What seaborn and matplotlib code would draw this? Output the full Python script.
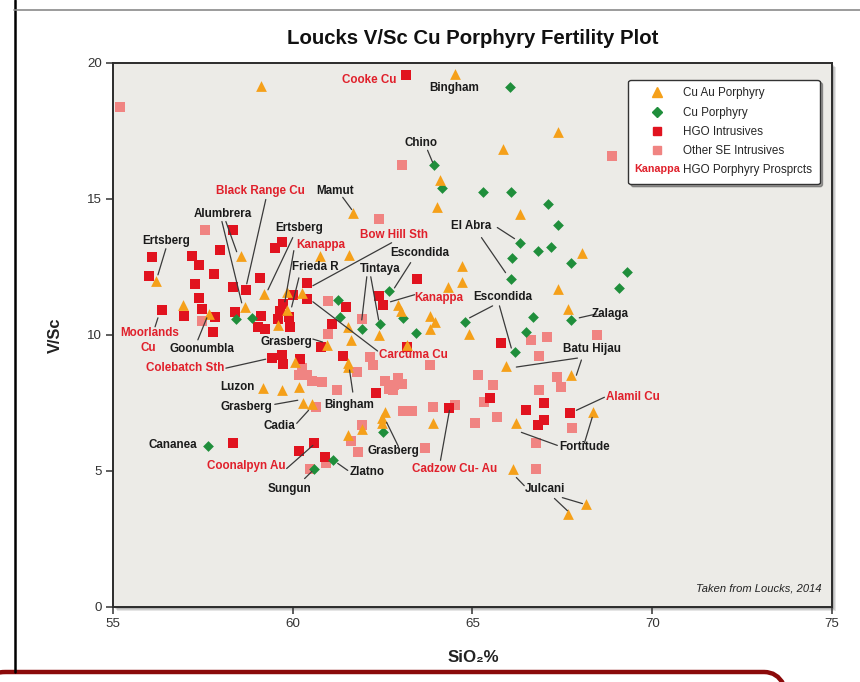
import pandas as pd
import matplotlib
matplotlib.use('Agg')
import matplotlib.pyplot as plt
import seaborn as sns
from matplotlib import font_manager
from matplotlib.lines import Line2D
from matplotlib.patches import Rectangle, FancyBboxPatch
from matplotlib.legend_handler import HandlerBase
import matplotlib.text as mtext

cuau_sio2 = [59.11, 64.50, 67.39, 65.86, 64.11, 64.00, 66.33, 61.69, 68.06, 61.56,
             60.75, 58.56, 56.19, 64.72, 64.72, 64.31, 67.39, 62.94, 63.00, 67.67,
             59.19, 59.83, 60.25, 58.67, 56.94, 57.67, 59.83, 59.58, 63.81, 63.97,
             63.83, 64.89, 62.39, 61.53, 61.61, 60.94, 63.19, 60.06, 61.53, 61.53,
             65.94, 67.75, 59.17, 59.69, 60.17, 60.28, 60.53, 62.56, 62.47, 62.47,
             63.89, 66.22, 61.53, 61.92, 68.36, 66.14, 68.17, 67.67]
cuau_vsc = [19.15, 19.60, 17.45, 16.85, 15.68, 14.72, 14.46, 14.50, 13.00, 12.95,
            12.92, 12.92, 12.00, 12.55, 11.96, 11.77, 11.70, 11.11, 10.89, 10.95,
            11.51, 11.59, 11.55, 11.03, 11.10, 10.77, 10.92, 10.37, 10.70, 10.48,
            10.22, 10.04, 10.00, 10.30, 9.82, 9.63, 9.63, 9.00, 8.97, 8.82,
            8.86, 8.52, 8.04, 7.97, 8.08, 7.49, 7.45, 7.16, 6.94, 6.75,
            6.75, 6.75, 6.31, 6.55, 7.16, 5.06, 3.78, 3.43]

cu_sio2 = [66.03, 63.92, 64.14, 65.28, 66.06, 67.11, 67.39, 66.31, 66.81, 67.19,
           66.11, 67.75, 69.30, 66.06, 69.08, 62.69, 61.25, 61.31, 61.94, 62.44,
           63.08, 63.42, 64.78, 66.69, 67.75, 66.50, 66.17, 58.42, 58.86, 62.50,
           57.64, 61.11, 60.58]
cu_vsc = [19.11, 16.24, 15.42, 15.24, 15.24, 14.83, 14.06, 13.39, 13.10, 13.25,
          12.84, 12.66, 12.32, 12.07, 11.73, 11.63, 11.29, 10.66, 10.22, 10.41,
          10.63, 10.07, 10.48, 10.66, 10.55, 10.11, 9.37, 10.59, 10.63, 6.42,
          5.90, 5.42, 5.06]

hgo_sio2 = [63.14, 58.33, 56.08, 57.19, 57.97, 59.50, 59.70, 57.39, 56.00, 57.80,
            57.28, 57.39, 58.33, 58.69, 59.08, 56.36, 56.97, 57.47, 57.83, 57.78,
            58.39, 59.11, 59.03, 59.22, 60.00, 59.72, 59.64, 59.58, 59.89, 59.92,
            60.39, 60.39, 61.47, 61.08, 60.78, 61.39, 59.42, 59.69, 59.72, 60.19,
            63.47, 62.39, 62.50, 63.19, 65.78, 62.31, 65.50, 66.50, 67.00, 67.72,
            66.81, 67.00, 64.36, 58.33, 60.17, 60.58, 60.89]
hgo_vsc = [19.56, 13.87, 12.88, 12.92, 13.12, 13.20, 13.40, 12.58, 12.18, 12.25,
           11.88, 11.37, 11.77, 11.66, 12.10, 10.92, 10.70, 10.96, 10.66, 10.11,
           10.85, 10.70, 10.30, 10.22, 11.48, 11.14, 10.89, 10.59, 10.66, 10.30,
           11.33, 11.92, 11.03, 10.41, 9.56, 9.23, 9.15, 9.25, 8.95, 9.11,
           12.07, 11.44, 11.11, 9.55, 9.70, 7.86, 7.67, 7.23, 7.49, 7.12,
           6.68, 6.86, 7.30, 6.01, 5.72, 6.01, 5.50]

se_sio2 = [55.19, 57.56, 63.03, 62.39, 68.89, 57.47, 60.97, 60.97, 61.94, 60.25,
           60.39, 60.17, 60.53, 60.81, 61.22, 60.64, 62.14, 62.22, 61.78, 63.81,
           62.69, 62.56, 62.83, 62.94, 63.03, 62.78, 65.14, 65.58, 65.31, 66.64,
           67.06, 66.86, 67.36, 67.47, 66.86, 68.47, 65.67, 65.06, 64.50, 63.06,
           63.33, 63.89, 61.92, 61.61, 61.81, 63.67, 66.78, 66.78, 67.78, 60.92,
           60.47]
se_vsc = [18.37, 13.87, 16.24, 14.28, 16.57, 10.52, 11.25, 10.04, 10.59, 8.78,
          8.52, 8.52, 8.30, 8.27, 7.97, 7.34, 9.19, 8.89, 8.63, 8.89,
          8.00, 8.30, 8.15, 8.41, 8.19, 7.97, 8.52, 8.15, 7.53, 9.82,
          9.93, 9.22, 8.45, 8.10, 7.97, 10.00, 6.97, 6.75, 7.42, 7.20,
          7.20, 7.34, 6.68, 6.09, 5.68, 5.83, 6.01, 5.09, 6.57, 5.28,
          5.09]

# deposit names (text, x, y, prospect?) and leader lines
label_text = ['Cooke Cu', 'Bingham', 'Chino', 'Mamut', 'Black Range Cu', 'Alumbrera',
              'Ertsberg', 'Ertsberg', 'Kanappa', 'Frieda R', 'Bow Hill Sth', 'Escondida',
              'Tintaya', 'Kanappa', 'El Abra', 'Escondida', 'Carcuma Cu', 'Grasberg',
              'Moorlands', 'Cu', 'Goonumbla', 'Colebatch Sth', 'Batu Hijau', 'Zalaga',
              'Luzon', 'Grasberg', 'Cadia', 'Bingham', 'Grasberg', 'Cananea',
              'Coonalpyn Au', 'Sungun', 'Zlatno', 'Cadzow Cu- Au', 'Fortitude',
              'Julcani', 'Alamil Cu']
label_x = [62.14, 64.50, 63.56, 61.17, 59.11, 58.06, 56.47, 60.19, 60.78, 60.64,
           62.83, 63.53, 62.42, 64.06, 64.97, 65.83, 63.36, 59.83, 56.03, 55.97,
           57.47, 57.00, 68.33, 68.83, 58.47, 58.72, 59.64, 61.58, 62.81, 56.67,
           58.72, 59.92, 62.06, 64.50, 68.11, 67.03, 69.47]
label_y = [19.37, 19.08, 17.05, 15.31, 15.28, 14.46, 13.47, 13.95, 13.32, 12.51,
           13.69, 13.03, 12.44, 11.37, 14.02, 11.40, 9.26, 9.74, 10.07, 9.52,
           9.50, 8.78, 9.48, 10.77, 8.08, 7.34, 6.64, 7.42, 5.72, 5.94,
           5.17, 4.32, 4.98, 5.06, 5.87, 4.35, 7.71]
label_prospect = [1, 0, 0, 0, 1, 0, 0, 0, 1, 0, 1, 0, 0, 1, 0, 0, 1, 0,
                  1, 1, 0, 1, 0, 0, 0, 0, 0, 0, 0, 0, 1, 0, 0, 1, 0, 0, 1]

leaders = [
    (63.75, 16.79, 63.89, 16.35), (61.39, 15.06, 61.64, 14.61),
    (59.25, 14.98, 58.72, 11.88), (58.03, 14.17, 58.58, 11.18),
    (58.14, 14.17, 58.44, 13.06), (56.47, 13.17, 56.25, 12.21),
    (60.00, 13.58, 59.31, 11.66), (60.03, 13.10, 59.78, 11.22),
    (60.17, 12.10, 59.97, 11.03), (62.75, 13.39, 60.56, 11.81),
    (63.28, 12.66, 62.83, 11.73), (62.06, 12.14, 61.92, 10.55),
    (62.17, 12.14, 62.39, 10.55), (63.39, 11.48, 62.72, 11.22),
    (65.69, 13.95, 66.17, 13.54), (65.25, 13.58, 65.92, 12.29),
    (65.56, 11.07, 64.92, 10.63), (65.75, 11.07, 66.08, 9.52),
    (62.36, 9.41, 60.56, 11.22), (60.56, 9.85, 60.83, 9.74),
    (56.17, 10.30, 56.25, 10.63), (57.36, 9.82, 57.61, 10.63),
    (58.14, 8.78, 59.25, 9.11), (67.92, 9.15, 66.22, 8.82),
    (68.03, 9.08, 67.89, 8.52), (68.44, 10.77, 67.97, 10.63),
    (59.50, 7.45, 60.14, 7.60), (60.11, 6.75, 60.44, 7.23),
    (61.67, 7.90, 61.58, 8.71), (62.94, 5.90, 62.61, 6.79),
    (59.83, 5.09, 60.56, 5.94), (60.33, 4.72, 60.53, 4.98),
    (61.53, 5.02, 61.25, 5.28), (64.11, 5.39, 64.36, 7.23),
    (67.36, 5.94, 66.36, 6.42), (68.11, 6.01, 68.33, 6.97),
    (66.44, 4.46, 66.22, 4.76), (67.28, 3.99, 67.64, 3.54),
    (67.50, 4.02, 68.06, 3.80), (68.67, 7.71, 67.89, 7.23),
]

x_ticks = [55, 60, 65, 70, 75]
y_ticks = [0, 5, 10, 15, 20]

ORANGE = '#F5A01A'
GREEN = '#1F8E3B'
RED = '#E1131F'
PINK = '#F08482'
TXT_RED = '#E0202B'
TXT = '#1b1b1b'

sns.set_theme(style='white')
names = {f.name for f in font_manager.fontManager.ttflist}
has_narrow = 'Liberation Sans Narrow' in names
NARROW = 'Liberation Sans Narrow' if has_narrow else 'Liberation Sans'
k = 1.0 if has_narrow else 0.84
plt.rcParams['font.family'] = [NARROW, 'DejaVu Sans']

fig = plt.figure(figsize=(8.6, 6.82), dpi=100)
fig.patch.set_facecolor('white')
ax = fig.add_axes([0.1314, 0.1100, 0.8360, 0.7977])
ax.set_facecolor('#ECEBE7')

# soft drop shadow behind the plot frame
for i, a in enumerate([0.10, 0.10, 0.12, 0.14]):
    off = (4 - i) / 860
    offy = (4 - i) / 682
    fig.patches.append(Rectangle((0.1314 + off, 0.1100 - offy), 0.8360, 0.7977,
                                 transform=fig.transFigure, facecolor='#000000',
                                 alpha=a, edgecolor='none', zorder=-1))

groups = [
    (se_sio2, se_vsc, 's', PINK, 44, 'Other SE Intrusives'),
    (hgo_sio2, hgo_vsc, 's', RED, 44, 'HGO Intrusives'),
    (cu_sio2, cu_vsc, 'D', GREEN, 30, 'Cu Porphyry'),
    (cuau_sio2, cuau_vsc, '^', ORANGE, 60, 'Cu Au Porphyry'),
]
for xs, ys, m, c, s, lab in groups:
    df = pd.DataFrame({'SiO2': xs, 'VSc': ys})
    sns.scatterplot(data=df, x='SiO2', y='VSc', marker=m, color=c, s=s,
                    linewidth=0, ax=ax, zorder=3, legend=False)

for x0, y0, x1, y1 in leaders:
    ax.plot([x0, x1], [y0, y1], color='#3a3a3a', lw=0.9, zorder=4)

for t, x, y, p in zip(label_text, label_x, label_y, label_prospect):
    ax.text(x, y, t, ha='center', va='center', fontsize=10 * k, fontweight='bold',
            color=TXT_RED if p else TXT, zorder=5)

ax.text(0.985, 0.025, 'Taken from Loucks, 2014', transform=ax.transAxes,
        ha='right', va='bottom', fontsize=9.5 * k, style='italic', color='#222222')

ax.set_xlim(55, 75)
ax.set_ylim(0, 20)
ax.set_xticks(x_ticks)
ax.set_yticks(y_ticks)
ax.set_xlabel('')
ax.set_ylabel('')
ax.tick_params(axis='both', direction='out', length=5, width=1.1, color='#333333',
               labelsize=11.5 * k, labelcolor='#333333', pad=3)
ax.tick_params(left=True, bottom=True)
for sp in ax.spines.values():
    sp.set_color('#2b2b2b')
    sp.set_linewidth(1.4)


class KanappaKey:
    pass


class KanappaHandler(HandlerBase):
    def create_artists(self, legend, orig_handle, xdescent, ydescent, width, height,
                       fontsize, trans):
        t = mtext.Text(width / 2 - xdescent, height / 2 - ydescent, 'Kanappa',
                       ha='center', va='center', color=TXT_RED, fontweight='bold',
                       fontsize=fontsize * 0.92, family=NARROW, transform=trans)
        return [t]


handles = [
    Line2D([], [], ls='none', marker='^', color=ORANGE, markersize=7),
    Line2D([], [], ls='none', marker='D', color=GREEN, markersize=5),
    Line2D([], [], ls='none', marker='s', color=RED, markersize=6),
    Line2D([], [], ls='none', marker='s', color=PINK, markersize=6),
    KanappaKey(),
]
labels = ['Cu Au Porphyry', 'Cu Porphyry', 'HGO Intrusives', 'Other SE Intrusives',
          'HGO Porphyry Prosprcts']
leg = ax.legend(handles, labels, loc='upper right', bbox_to_anchor=(0.983, 0.969),
                handler_map={KanappaKey: KanappaHandler()}, fontsize=10 * k,
                frameon=True, fancybox=True, shadow=True, handlelength=3.6,
                handletextpad=0.45, labelspacing=0.62, borderpad=0.65,
                borderaxespad=0)
leg.get_frame().set_facecolor('white')
leg.get_frame().set_edgecolor('#333333')
leg.get_frame().set_linewidth(1.0)
leg.get_frame().set_alpha(1)
leg.set_zorder(10)

fig.text(0.550, 0.944, 'Loucks V/Sc Cu Porphyry Fertility Plot', ha='center',
         va='center', fontsize=17.5 * k, fontweight='bold', color='#111111')
fig.text(55 / 860, 1 - 335 / 682, 'V/Sc', rotation=90, ha='center', va='center',
         fontsize=14 * k, fontweight='bold', color='#222222')
fig.text(473 / 860, 1 - 657 / 682, 'SiO\u2082%', ha='center', va='center',
         fontsize=14.5 * k, fontweight='bold', color='#222222')

# slide frame pieces around the chart
fig.add_artist(Line2D([14.5 / 860, 14.5 / 860], [1, 1 - 672 / 682],
                      transform=fig.transFigure, color='black', lw=1.8))
fig.add_artist(Line2D([14 / 860, 1], [1 - 10 / 682, 1 - 10 / 682],
                      transform=fig.transFigure, color='#8a8a8a', lw=1.2))
fig.add_artist(FancyBboxPatch((-20 / 860, -60 / 682), 810 / 860, 70 / 682,
                              boxstyle='round,pad=0,rounding_size=0.03',
                              transform=fig.transFigure, facecolor='none',
                              edgecolor='#8B0A0A', lw=3.2))

fig.savefig('out.png', dpi=100, facecolor='white')
